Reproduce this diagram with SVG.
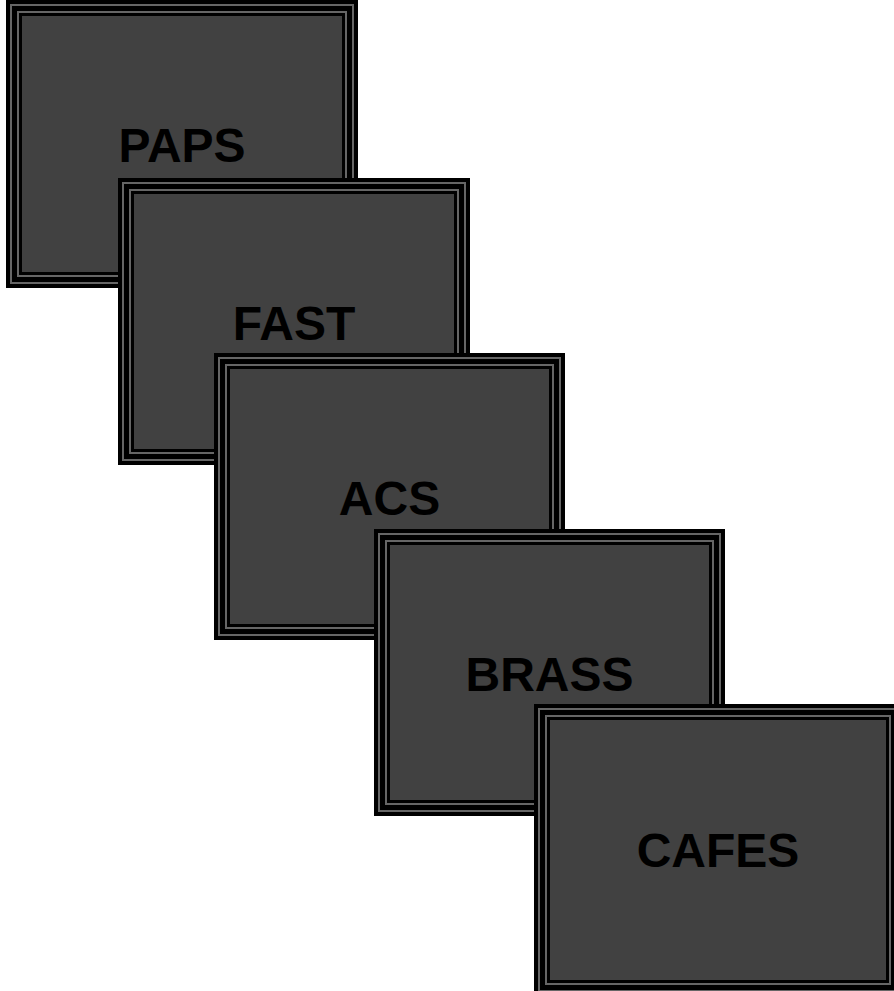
<svg xmlns="http://www.w3.org/2000/svg" width="894" height="991" viewBox="0 0 894 991">
<style>
.k{fill:#000}
.g{fill:#666}
.f{fill:#414141}
.t{font-family:"Liberation Sans",Arial,sans-serif;font-weight:bold;font-size:48px;fill:#000;text-anchor:middle}
</style>
<rect width="894" height="991" fill="#fff"/>
<g id="paps">
<rect class="k" x="6" y="0" width="352" height="288"/>
<rect class="g" x="10" y="4" width="344" height="280"/>
<rect class="k" x="12" y="6" width="340" height="276"/>
<rect class="g" x="17" y="11" width="330" height="266"/>
<rect class="k" x="19" y="13" width="326" height="262"/>
<rect class="f" x="22" y="16" width="320" height="256"/>
<text class="t" x="182" y="162">PAPS</text>
</g>
<g id="fast">
<rect class="k" x="118" y="178" width="352" height="287"/>
<rect class="g" x="122" y="182" width="344" height="279"/>
<rect class="k" x="124" y="184" width="340" height="275"/>
<rect class="g" x="129" y="189" width="330" height="265"/>
<rect class="k" x="131" y="191" width="326" height="261"/>
<rect class="f" x="134" y="194" width="320" height="255"/>
<text class="t" x="294" y="340">FAST</text>
</g>
<g id="acs">
<rect class="k" x="214" y="353" width="351" height="287"/>
<rect class="g" x="218" y="357" width="343" height="279"/>
<rect class="k" x="220" y="359" width="339" height="275"/>
<rect class="g" x="225" y="364" width="329" height="265"/>
<rect class="k" x="227" y="366" width="325" height="261"/>
<rect class="f" x="230" y="369" width="319" height="255"/>
<text class="t" x="389.5" y="515">ACS</text>
</g>
<g id="brass">
<rect class="k" x="374" y="529" width="351" height="287"/>
<rect class="g" x="378" y="533" width="343" height="279"/>
<rect class="k" x="380" y="535" width="339" height="275"/>
<rect class="g" x="385" y="540" width="329" height="265"/>
<rect class="k" x="387" y="542" width="325" height="261"/>
<rect class="f" x="390" y="545" width="319" height="255"/>
<text class="t" x="549.5" y="691">BRASS</text>
</g>
<g id="cafes">
<rect class="k" x="534" y="704" width="368" height="292"/>
<rect class="g" x="538" y="708" width="360" height="284"/>
<rect class="k" x="540" y="710" width="356" height="280"/>
<rect class="g" x="545" y="715" width="346" height="270"/>
<rect class="k" x="547" y="717" width="342" height="266"/>
<rect class="f" x="550" y="720" width="336" height="260"/>
<text class="t" x="718" y="867">CAFES</text>
</g>
<g id="connectors"/>
</svg>
